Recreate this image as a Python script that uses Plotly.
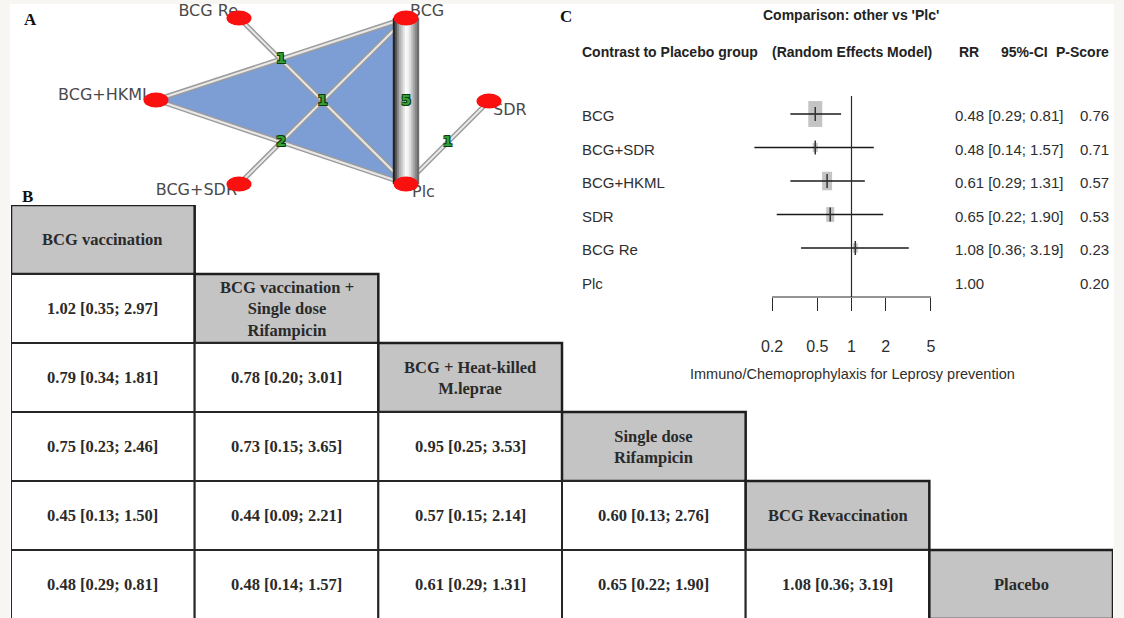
import numpy as np
import plotly.graph_objects as go

W, H = 1124, 618

# ---------------- Panel A: treatment network ----------------
treatments = ["BCG Re", "BCG", "BCG+HKML", "SDR", "BCG+SDR", "Plc"]
edge_from = ["BCG", "BCG+HKML", "BCG+HKML", "BCG Re", "BCG+SDR", "SDR"]
edge_to = ["Plc", "BCG", "Plc", "Plc", "BCG", "Plc"]
edge_studies = [5, 1, 2, 1, 1, 1]
multi_arm_study = ["BCG", "BCG+HKML", "Plc"]

# ---------------- Panel B: league table ----------------
league_labels = [
    "BCG vaccination",
    "BCG vaccination +<br>Single dose<br>Rifampicin",
    "BCG + Heat-killed<br>M.leprae",
    "Single dose<br>Rifampicin",
    "BCG Revaccination",
    "Placebo",
]
league_rr = [
    [1.02],
    [0.79, 0.78],
    [0.75, 0.73, 0.95],
    [0.45, 0.44, 0.57, 0.60],
    [0.48, 0.48, 0.61, 0.65, 1.08],
]
league_lo = [
    [0.35],
    [0.34, 0.20],
    [0.23, 0.15, 0.25],
    [0.13, 0.09, 0.15, 0.13],
    [0.29, 0.14, 0.29, 0.22, 0.36],
]
league_hi = [
    [2.97],
    [1.81, 3.01],
    [2.46, 3.65, 3.53],
    [1.50, 2.21, 2.14, 2.76],
    [0.81, 1.57, 1.31, 1.90, 3.19],
]

# ---------------- Panel C: forest plot vs placebo ----------------
contrasts = ["BCG", "BCG+SDR", "BCG+HKML", "SDR", "BCG Re", "Plc"]
rr = [0.48, 0.48, 0.61, 0.65, 1.08, 1.00]
ci_lo = [0.29, 0.14, 0.29, 0.22, 0.36, None]
ci_hi = [0.81, 1.57, 1.31, 1.90, 3.19, None]
p_score = [0.76, 0.71, 0.57, 0.53, 0.23, 0.20]
x_ticks = [0.2, 0.5, 1, 2, 5]

# ---------------- layout / style ----------------
node_xy = {
    "BCG Re": (239, 18), "BCG": (406, 18), "BCG+HKML": (156, 100),
    "SDR": (489, 101), "BCG+SDR": (239, 184), "Plc": (406, 184),
}
label_xy = {
    "BCG Re": (238, 12, "middle left"), "BCG": (410, 12, "middle right"),
    "BCG+HKML": (151, 96, "middle left"), "SDR": (493, 111, "middle right"),
    "BCG+SDR": (237, 191, "middle left"), "Plc": (412, 193, "middle right"),
}
box_w = [14, 5, 10, 8, 5, 0]          # forest square widths (px)
box_aspect = 1.85

SANS = "Liberation Sans, Arial, sans-serif"
SERIF = "Liberation Serif, Times New Roman, serif"
NET_FONT = "DejaVu Sans, Liberation Sans, sans-serif"


def fx(p):
    return p / W


def fy(p):
    return 1 - p / H


fig = go.Figure()
shapes = []
annotations = []

# page background with a white canvas
shapes.append(dict(type="rect", xref="paper", yref="paper", x0=fx(10), x1=fx(1114),
                   y0=0, y1=fy(4), fillcolor="white", line=dict(width=0), layer="below"))

# ---- Panel A ----
tri = multi_arm_study + [multi_arm_study[0]]
fig.add_trace(go.Scatter(
    x=[node_xy[t][0] for t in tri], y=[node_xy[t][1] for t in tri],
    fill="toself", fillcolor="#7d9dd5", mode="lines", line=dict(width=0),
    xaxis="x", yaxis="y", hoverinfo="skip", showlegend=False))

max_n = max(edge_studies)
for a, b, n in zip(edge_from, edge_to, edge_studies):
    if n == max_n:
        continue
    xs = [node_xy[a][0], node_xy[b][0]]
    ys = [node_xy[a][1], node_xy[b][1]]
    fig.add_trace(go.Scatter(x=xs, y=ys, mode="lines", line=dict(color="#9c9c9c", width=5),
                             xaxis="x", yaxis="y", hoverinfo="skip", showlegend=False))
    fig.add_trace(go.Scatter(x=xs, y=ys, mode="lines", line=dict(color="#e8e8e8", width=2),
                             xaxis="x", yaxis="y", hoverinfo="skip", showlegend=False))

# thickest comparison drawn as a shaded cylinder
for a, b, n in zip(edge_from, edge_to, edge_studies):
    if n != max_n:
        continue
    xa, ya = node_xy[a]
    xb, yb = node_xy[b]
    bar_w = 26
    offsets = np.arange(-bar_w / 2 + 1, bar_w / 2, 2.0)
    prof_t = [0.0, 0.08, 0.25, 0.5, 0.62, 0.8, 1.0]
    prof_v = [15, 60, 170, 250, 240, 170, 95]
    for off in offsets:
        t = (off + bar_w / 2) / bar_w
        v = int(np.interp(t, prof_t, prof_v))
        fig.add_trace(go.Scatter(x=[xa + off, xb + off], y=[ya, yb], mode="lines",
                                 line=dict(color=f"rgb({v},{v},{v})", width=2.4),
                                 xaxis="x", yaxis="y", hoverinfo="skip", showlegend=False))

# edge labels (number of studies)
mid_x = [(node_xy[a][0] + node_xy[b][0]) / 2 for a, b in zip(edge_from, edge_to)]
mid_y = [(node_xy[a][1] + node_xy[b][1]) / 2 for a, b in zip(edge_from, edge_to)]
fig.add_trace(go.Scatter(
    x=mid_x, y=mid_y, mode="text", text=[str(n) for n in edge_studies],
    textposition="middle center",
    textfont=dict(family="DejaVu Sans, sans-serif", size=14, weight="bold", color="#35a035",
                  shadow="1px 1px 0 #0d3d0d, -1px -1px 0 #0d3d0d, 1px -1px 0 #0d3d0d, -1px 1px 0 #0d3d0d"),
    xaxis="x", yaxis="y", hoverinfo="skip", showlegend=False))

# node labels
for t in treatments:
    lx, ly, pos = label_xy[t]
    fig.add_trace(go.Scatter(
        x=[lx], y=[ly], mode="text", text=[t], textposition=pos,
        textfont=dict(family=NET_FONT, size=16, color="#4a4a4a"),
        xaxis="x", yaxis="y", hoverinfo="skip", showlegend=False, cliponaxis=False))

# nodes
for t in treatments:
    cx, cy = node_xy[t]
    shapes.append(dict(type="circle", xref="x", yref="y", xsizemode="pixel", ysizemode="pixel",
                       xanchor=cx, yanchor=cy, x0=-12.5, x1=12.5, y0=-7.5, y1=7.5,
                       fillcolor="#fb1010", line=dict(width=0), layer="above"))

# ---- Panel B: league table ----
n_tr = len(league_labels)
for r in range(n_tr):
    for c in range(r + 1):
        if c == r:
            shapes.append(dict(type="rect", xref="x2", yref="y2", x0=c, x1=c + 1, y0=r, y1=r + 1,
                               fillcolor="#c4c4c4", line=dict(color="#1e1e1e", width=2.5), layer="below"))
            txt = league_labels[r]
        else:
            shapes.append(dict(type="rect", xref="x2", yref="y2", x0=c, x1=c + 1, y0=r, y1=r + 1,
                               fillcolor="white", line=dict(color="#262626", width=2), layer="below"))
            v, lo, hi = league_rr[r - 1][c], league_lo[r - 1][c], league_hi[r - 1][c]
            txt = f"{v:.2f} [{lo:.2f}; {hi:.2f}]"
        annotations.append(dict(xref="x2", yref="y2", x=c + 0.5, y=r + 0.5, text=txt, showarrow=False,
                                font=dict(family=SERIF, size=16.5, weight="bold", color="#2a2a2a"),
                                align="center", xanchor="center", yanchor="middle"))

# ---- Panel C: forest plot ----
log_rr = [np.log10(v) for v in rr]
for i, (lo, hi) in enumerate(zip(ci_lo, ci_hi)):
    if lo is None:
        continue
    fig.add_trace(go.Scatter(x=[np.log10(lo), np.log10(hi)], y=[i, i], mode="lines",
                             line=dict(color="#1a1a1a", width=1.6), xaxis="x3", yaxis="y3",
                             hoverinfo="skip", showlegend=False))
for i, w in enumerate(box_w):
    if w <= 0:
        continue
    h = w * box_aspect
    shapes.append(dict(type="rect", xref="x3", yref="y3", xsizemode="pixel", ysizemode="pixel",
                       xanchor=log_rr[i], yanchor=i, x0=-w / 2, x1=w / 2, y0=-h / 2, y1=h / 2,
                       fillcolor="#c4c4c4", line=dict(width=0), layer="below"))
est_idx = [i for i in range(len(rr)) if ci_lo[i] is not None]
fig.add_trace(go.Scatter(x=[log_rr[i] for i in est_idx], y=est_idx, mode="markers",
                         marker=dict(symbol="line-ns", size=10, line=dict(width=1.5, color="#333")),
                         xaxis="x3", yaxis="y3", hoverinfo="skip", showlegend=False))

# reference line at RR = 1 and the x axis line
shapes.append(dict(type="line", xref="x3", yref="y3 domain", x0=0, x1=0, y0=0, y1=1,
                   line=dict(color="#2a2a2a", width=1.2)))
shapes.append(dict(type="line", xref="x3", yref="y3 domain", x0=np.log10(x_ticks[0]),
                   x1=np.log10(x_ticks[-1]), y0=0, y1=0, line=dict(color="#2a2a2a", width=1.2)))

row_font = dict(family=SANS, size=15, color="#2e2e2e")
head_font = dict(family=SANS, size=14, color="#222222", weight="bold")
for i, name in enumerate(contrasts):
    annotations.append(dict(xref="paper", yref="y3", x=fx(580), y=i, text=name, showarrow=False,
                            xanchor="left", yanchor="middle", font=row_font, yshift=-2))
    if ci_lo[i] is None:
        rr_txt = f"{rr[i]:.2f}"
    else:
        rr_txt = f"{rr[i]:.2f} [{ci_lo[i]:.2f}; {ci_hi[i]:.2f}]"
    annotations.append(dict(xref="paper", yref="y3", x=fx(953), y=i, text=rr_txt, showarrow=False,
                            xanchor="left", yanchor="middle", font=row_font, yshift=-2))
    annotations.append(dict(xref="paper", yref="y3", x=fx(1111), y=i, text=f"{p_score[i]:.2f}",
                            showarrow=False, xanchor="right", yanchor="middle", font=row_font, yshift=-2))

headers = [
    ("Comparison: other vs 'Plc'", 851, 15, "center"),
    ("Contrast to Placebo group", 580, 52, "left"),
    ("(Random Effects Model)", 852, 52, "center"),
    ("RR", 969, 52, "center"),
    ("95%-CI", 1050, 52, "right"),
    ("P-Score", 1111, 52, "right"),
]
for txt, px, py, anc in headers:
    annotations.append(dict(xref="paper", yref="paper", x=fx(px), y=fy(py), text=txt, showarrow=False,
                            xanchor=anc, yanchor="middle", font=head_font))
annotations.append(dict(xref="paper", yref="paper", x=fx(852), y=fy(374),
                        text="Immuno/Chemoprophylaxis for Leprosy prevention", showarrow=False,
                        xanchor="center", yanchor="middle", font=dict(family=SANS, size=14.5, color="#2e2e2e")))

# panel letters
for letter, px, py in [("A", 30, 19), ("B", 27, 197), ("C", 566, 17)]:
    annotations.append(dict(xref="paper", yref="paper", x=fx(px), y=fy(py), text=letter, showarrow=False,
                            xanchor="center", yanchor="middle",
                            font=dict(family=SERIF, size=17, weight="bold", color="#111")))

# axis geometry
px_per_dec = 113.7
ref_px = 851.5
fx3_0, fx3_1 = 730, 973
row0_px, row_step = 114, 33.5
fy3_top, fy3_bot = 96, 297

hidden = dict(visible=False, showgrid=False, zeroline=False, fixedrange=True)
fig.update_layout(
    width=W, height=H, margin=dict(l=0, r=0, t=0, b=0),
    paper_bgcolor="#f8f6f2", plot_bgcolor="rgba(0,0,0,0)",
    showlegend=False, shapes=shapes, annotations=annotations,
    xaxis=dict(domain=[0, fx(560)], range=[0, 560], **hidden),
    yaxis=dict(domain=[fy(200), 1], range=[200, 0], **hidden),
    xaxis2=dict(domain=[fx(11), fx(1113)], range=[0, 6], **hidden),
    yaxis2=dict(domain=[0, fy(205)], range=[(618 - 205) / 69, 0], **hidden),
    xaxis3=dict(domain=[fx(fx3_0), fx(fx3_1)],
                range=[(fx3_0 - ref_px) / px_per_dec, (fx3_1 - ref_px) / px_per_dec],
                tickvals=[np.log10(v) for v in x_ticks], ticktext=[f"{v:g}" for v in x_ticks],
                ticks="outside", ticklen=13, tickwidth=1, tickcolor="#2a2a2a",
                showline=False, showgrid=False, zeroline=False, ticklabelstandoff=22,
                tickfont=dict(family=SANS, size=16, color="#2e2e2e"), anchor="y3"),
    yaxis3=dict(domain=[fy(fy3_bot), fy(fy3_top)],
                range=[(fy3_bot - row0_px) / row_step, (fy3_top - row0_px) / row_step],
                visible=False, showgrid=False, zeroline=False, anchor="x3"),
)

fig.write_html("out.html")
